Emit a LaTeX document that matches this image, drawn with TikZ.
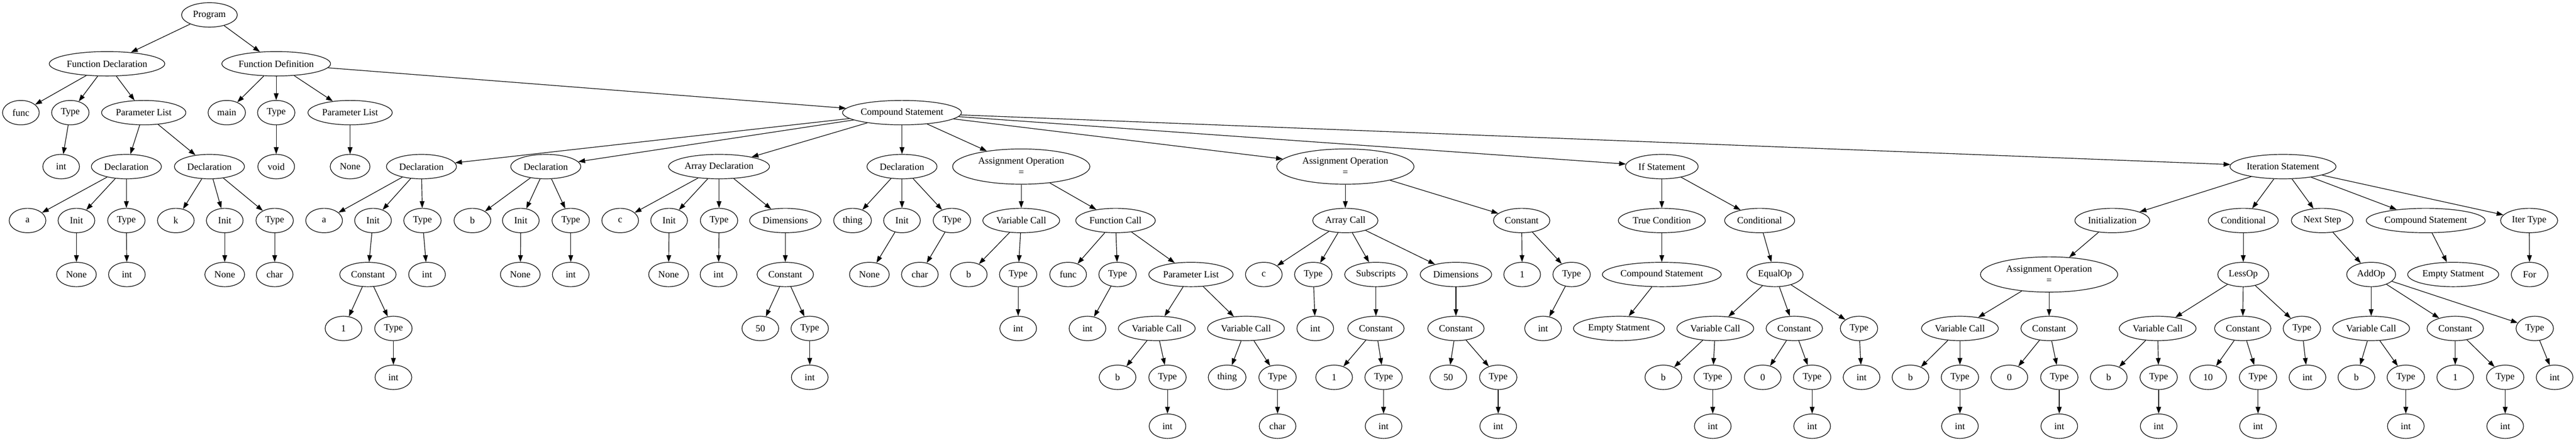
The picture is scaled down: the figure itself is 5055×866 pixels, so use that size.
\documentclass[tikz,border=0pt]{standalone}
\usepackage{fontspec}
\setmainfont{Liberation Serif}
\usetikzlibrary{shapes.geometric,arrows.meta}
\tikzset{
  nd/.style={draw, ellipse, line width=0.9pt, inner sep=0pt, minimum width=54pt, minimum height=36pt,
             font=\fontsize{14}{16.8}\selectfont, align=center},
  wd/.style={minimum width=#1pt},
  tall/.style={minimum height=52pt},
  e/.style={-{Triangle[length=10pt,width=7pt]}, line width=0.9pt},
}
\begin{document}
\begin{tikzpicture}[x=0.75pt,y=-0.75pt]
\useasboundingbox (0,0) rectangle (5055,866);
% rank 0-2 left
\node[nd,wd=82] (prog) at (411,29.3) {Program};
\node[nd,wd=170] (fdecl) at (210,125.3) {Function Declaration};
\node[nd,wd=160] (fdef) at (542,125.3) {Function Definition};
\node[nd] (fdfunc) at (41,221.3) {func};
\node[nd,wd=55] (fdtype) at (138,221.3) {Type};
\node[nd,wd=124] (fdpl) at (282,221.3) {Parameter List};
\node[nd] (fdint) at (120,327.3) {int};
\node[nd,wd=103] (pda) at (248,327.3) {Declaration};
\node[nd,wd=103] (pdb) at (411,327.3) {Declaration};
\node[nd] (pdaa) at (54,433.3) {a};
\node[nd] (pdai) at (150,433.3) {Init};
\node[nd,wd=55] (pdat) at (248,433.3) {Type};
\node[nd] (pdbk) at (345,433.3) {k};
\node[nd] (pdbi) at (441,433.3) {Init};
\node[nd,wd=55] (pdbt) at (539,433.3) {Type};
\node[nd,wd=58.5] (pdan) at (150,539.3) {None};
\node[nd] (pdaint) at (249,539.3) {int};
\node[nd,wd=58.5] (pdbn) at (441,539.3) {None};
\node[nd] (pdbc) at (539,539.3) {char};
% function definition
\node[nd,wd=55] (dfmain) at (445,221.3) {main};
\node[nd,wd=55] (dftype) at (542,221.3) {Type};
\node[nd,wd=124] (dfpl) at (687,221.3) {Parameter List};
\node[nd,wd=175] (cs) at (1770,221.3) {Compound Statement};
\node[nd] (dfvoid) at (542,327.3) {void};
\node[nd,wd=58.5] (dfnone) at (687,327.3) {None};
% declaration a
\node[nd,wd=103] (da) at (827,327.3) {Declaration};
\node[nd] (daa) at (636,433.3) {a};
\node[nd] (dai) at (732,433.3) {Init};
\node[nd,wd=55] (dat) at (829,433.3) {Type};
\node[nd,wd=83] (dac) at (722,539.3) {Constant};
\node[nd] (daint) at (838,539.3) {int};
\node[nd] (daone) at (674,645.3) {1};
\node[nd,wd=55] (dact) at (772,645.3) {Type};
\node[nd] (dacint) at (772,741.3) {int};
% declaration b
\node[nd,wd=103] (db) at (1071,327.3) {Declaration};
\node[nd] (dbb) at (927,433.3) {b};
\node[nd] (dbi) at (1022,433.3) {Init};
\node[nd,wd=55] (dbt) at (1120,433.3) {Type};
\node[nd,wd=58.5] (dbn) at (1021,539.3) {None};
\node[nd] (dbint) at (1120,539.3) {int};
% array declaration
\node[nd,wd=148.5] (ad) at (1411,327.3) {Array Declaration};
\node[nd] (adc) at (1217,433.3) {c};
\node[nd] (adi) at (1313,433.3) {Init};
\node[nd,wd=55] (adt) at (1411,433.3) {Type};
\node[nd,wd=105] (add) at (1541,433.3) {Dimensions};
\node[nd,wd=58.5] (adn) at (1312,539.3) {None};
\node[nd] (adint) at (1410,539.3) {int};
\node[nd,wd=83] (adk) at (1541,539.3) {Constant};
\node[nd] (adfifty) at (1492,645.3) {50};
\node[nd,wd=55] (adkt) at (1589,645.3) {Type};
\node[nd] (adkint) at (1589,741.3) {int};
% declaration thing
\node[nd,wd=103] (dc) at (1770,327.3) {Declaration};
\node[nd,wd=55.5] (dcth) at (1673,433.3) {thing};
\node[nd] (dci) at (1770,433.3) {Init};
\node[nd,wd=55] (dct) at (1868,433.3) {Type};
\node[nd,wd=58.5] (dcn) at (1706,539.3) {None};
\node[nd] (dcc) at (1805,539.3) {char};
% assignment 1
\node[nd,wd=202,tall] (aoa) at (2004,327.3) {Assignment Operation\\=};
\node[nd,wd=113] (aoav) at (2004,433.3) {Variable Call};
\node[nd,wd=117] (aoaf) at (2189,433.3) {Function Call};
\node[nd] (aoavb) at (1901,539.3) {b};
\node[nd,wd=55] (aoavt) at (1998,539.3) {Type};
\node[nd] (aoavint) at (1998,645.3) {int};
\node[nd] (fcf) at (2096,539.3) {func};
\node[nd,wd=55] (fct) at (2193,539.3) {Type};
\node[nd,wd=124] (fcpl) at (2337,539.3) {Parameter List};
\node[nd] (fcint) at (2134,645.3) {int};
\node[nd,wd=113] (pva) at (2270,645.3) {Variable Call};
\node[nd,wd=113] (pvb) at (2445,645.3) {Variable Call};
\node[nd] (pvab) at (2193,741.3) {b};
\node[nd,wd=55] (pvat) at (2291,741.3) {Type};
\node[nd] (pvaint) at (2291,837.3) {int};
\node[nd,wd=55.5] (pvbth) at (2408,741.3) {thing};
\node[nd,wd=55] (pvbt) at (2507,741.3) {Type};
\node[nd] (pvbc) at (2507,837.3) {char};
% assignment 2
\node[nd,wd=202,tall] (aob) at (2640,327.3) {Assignment Operation\\=};
\node[nd,wd=96] (ac) at (2640,433.3) {Array Call};
\node[nd,wd=83] (ak) at (2986,433.3) {Constant};
\node[nd] (acc) at (2480,539.3) {c};
\node[nd,wd=55] (act) at (2577,539.3) {Type};
\node[nd,wd=92] (acs) at (2700,539.3) {Subscripts};
\node[nd,wd=105] (acd) at (2857,539.3) {Dimensions};
\node[nd] (akone) at (2987,539.3) {1};
\node[nd,wd=55] (akt) at (3084,539.3) {Type};
\node[nd] (actint) at (2581,645.3) {int};
\node[nd,wd=83] (acsk) at (2700,645.3) {Constant};
\node[nd,wd=83] (acdk) at (2857,645.3) {Constant};
\node[nd] (aktint) at (3028,645.3) {int};
\node[nd] (acskone) at (2618,741.3) {1};
\node[nd,wd=55] (acskt) at (2715,741.3) {Type};
\node[nd] (acsktint) at (2715,837.3) {int};
\node[nd] (acdkfifty) at (2842,741.3) {50};
\node[nd,wd=55] (acdkt) at (2940,741.3) {Type};
\node[nd] (acdktint) at (2940,837.3) {int};
% if statement
\node[nd,wd=107] (ifs) at (3261,327.3) {If Statement};
\node[nd,wd=128] (tc) at (3261,433.3) {True Condition};
\node[nd,wd=103] (cnd) at (3453,433.3) {Conditional};
\node[nd,wd=175] (tccs) at (3261,539.3) {Compound Statement};
\node[nd,wd=83] (eq) at (3483,539.3) {EqualOp};
\node[nd,wd=134] (esa) at (3177,645.3) {Empty Statment};
\node[nd,wd=113] (eqv) at (3366,645.3) {Variable Call};
\node[nd,wd=83] (eqk) at (3521,645.3) {Constant};
\node[nd,wd=55] (eqt) at (3648,645.3) {Type};
\node[nd] (eqvb) at (3264,741.3) {b};
\node[nd,wd=55] (eqvt) at (3361,741.3) {Type};
\node[nd] (eqkz) at (3459,741.3) {0};
\node[nd,wd=55] (eqkt) at (3556,741.3) {Type};
\node[nd] (eqtint) at (3653,741.3) {int};
\node[nd] (eqvtint) at (3361,837.3) {int};
\node[nd] (eqktint) at (3556,837.3) {int};
% iteration statement
\node[nd,wd=156] (it) at (4480,327.3) {Iteration Statement};
\node[nd,wd=110] (ini) at (4145,433.3) {Initialization};
\node[nd,wd=103] (icnd) at (4402,433.3) {Conditional};
\node[nd,wd=91] (ns) at (4557,433.3) {Next Step};
\node[nd,wd=175] (ics) at (4760,433.3) {Compound Statement};
\node[nd,wd=84] (ity) at (4963,433.3) {Iter Type};
\node[nd,wd=202,tall] (iao) at (4021,539.3) {Assignment Operation\\=};
\node[nd,wd=75] (lo) at (4402,539.3) {LessOp};
\node[nd,wd=72] (aop) at (4653,539.3) {AddOp};
\node[nd,wd=134] (esb) at (4814,539.3) {Empty Statment};
\node[nd] (forn) at (4964,539.3) {For};
\node[nd,wd=113] (iaov) at (3846,645.3) {Variable Call};
\node[nd,wd=83] (iaok) at (4021,645.3) {Constant};
\node[nd,wd=113] (lov) at (4234,645.3) {Variable Call};
\node[nd,wd=83] (lok) at (4401,645.3) {Constant};
\node[nd,wd=55] (lot) at (4517,645.3) {Type};
\node[nd,wd=113] (aov) at (4653,645.3) {Variable Call};
\node[nd,wd=83] (aok) at (4818,645.3) {Constant};
\node[nd,wd=55] (aot) at (4974,645.3) {Type};
\node[nd] (iaovb) at (3749,741.3) {b};
\node[nd,wd=55] (iaovt) at (3846,741.3) {Type};
\node[nd] (iaokz) at (3943,741.3) {0};
\node[nd,wd=55] (iaokt) at (4041,741.3) {Type};
\node[nd] (lovb) at (4138,741.3) {b};
\node[nd,wd=55] (lovt) at (4236,741.3) {Type};
\node[nd] (lokten) at (4333,741.3) {10};
\node[nd,wd=55] (lokt) at (4431,741.3) {Type};
\node[nd] (lotint) at (4528,741.3) {int};
\node[nd] (aovb) at (4624,741.3) {b};
\node[nd,wd=55] (aovt) at (4721,741.3) {Type};
\node[nd] (aokone) at (4818,741.3) {1};
\node[nd,wd=55] (aokt) at (4916,741.3) {Type};
\node[nd] (aotint) at (5013,741.3) {int};
\node[nd] (iaovtint) at (3846,837.3) {int};
\node[nd] (iaoktint) at (4041,837.3) {int};
\node[nd] (lovtint) at (4236,837.3) {int};
\node[nd] (loktint) at (4431,837.3) {int};
\node[nd] (aovtint) at (4721,837.3) {int};
\node[nd] (aoktint) at (4916,837.3) {int};
% edges
\foreach \a/\b in {prog/fdecl, prog/fdef,
  fdecl/fdfunc, fdecl/fdtype, fdecl/fdpl, fdtype/fdint, fdpl/pda, fdpl/pdb,
  pda/pdaa, pda/pdai, pda/pdat, pdb/pdbk, pdb/pdbi, pdb/pdbt,
  pdai/pdan, pdat/pdaint, pdbi/pdbn, pdbt/pdbc,
  fdef/dfmain, fdef/dftype, fdef/dfpl, fdef/cs, dftype/dfvoid, dfpl/dfnone,
  cs/da, cs/db, cs/ad, cs/dc, cs/aoa, cs/aob, cs/ifs, cs/it,
  da/daa, da/dai, da/dat, dai/dac, dat/daint, dac/daone, dac/dact, dact/dacint,
  db/dbb, db/dbi, db/dbt, dbi/dbn, dbt/dbint,
  ad/adc, ad/adi, ad/adt, ad/add, adi/adn, adt/adint, add/adk, adk/adfifty, adk/adkt, adkt/adkint,
  dc/dcth, dc/dci, dc/dct, dci/dcn, dct/dcc,
  aoa/aoav, aoa/aoaf, aoav/aoavb, aoav/aoavt, aoavt/aoavint,
  aoaf/fcf, aoaf/fct, aoaf/fcpl, fct/fcint, fcpl/pva, fcpl/pvb,
  pva/pvab, pva/pvat, pvat/pvaint, pvb/pvbth, pvb/pvbt, pvbt/pvbc,
  aob/ac, aob/ak, ac/acc, ac/act, ac/acs, ac/acd, ak/akone, ak/akt,
  act/actint, acs/acsk, acd/acdk, akt/aktint,
  acsk/acskone, acsk/acskt, acskt/acsktint, acdk/acdkfifty, acdk/acdkt, acdkt/acdktint,
  ifs/tc, ifs/cnd, tc/tccs, cnd/eq, tccs/esa, eq/eqv, eq/eqk, eq/eqt,
  eqv/eqvb, eqv/eqvt, eqk/eqkz, eqk/eqkt, eqt/eqtint, eqvt/eqvtint, eqkt/eqktint,
  it/ini, it/icnd, it/ns, it/ics, it/ity, ini/iao, icnd/lo, ns/aop, ics/esb, ity/forn,
  iao/iaov, iao/iaok, lo/lov, lo/lok, lo/lot, aop/aov, aop/aok, aop/aot,
  iaov/iaovb, iaov/iaovt, iaok/iaokz, iaok/iaokt, lov/lovb, lov/lovt, lok/lokten, lok/lokt,
  lot/lotint, aov/aovb, aov/aovt, aok/aokone, aok/aokt, aot/aotint,
  iaovt/iaovtint, iaokt/iaoktint, lovt/lovtint, lokt/loktint, aovt/aovtint, aokt/aoktint}
  \draw[e] (\a) -- (\b);
\end{tikzpicture}
\end{document}
